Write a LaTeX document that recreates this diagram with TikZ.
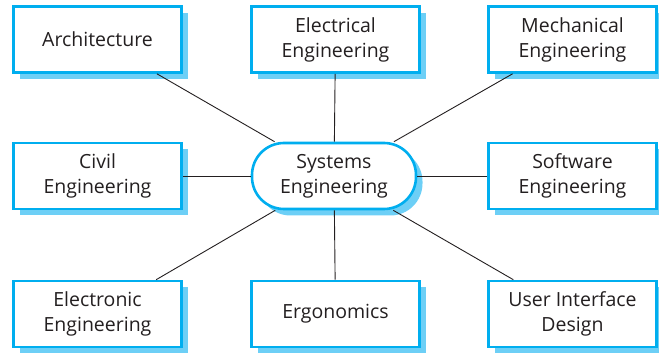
\documentclass[tikz,border=0pt]{standalone}
\usepackage{fontspec}
\setmainfont{Open Sans}
\usepackage{tikz}
\usetikzlibrary{shadows}
\definecolor{sysblue}{HTML}{00AEEF}
\definecolor{sysshade}{HTML}{6DCFF6}
\definecolor{systext}{HTML}{231F20}

\tikzset{
  discbox/.style={draw=sysblue, line width=2.6pt, fill=white,
    minimum width=168pt, minimum height=66pt, align=center,
    font=\fontsize{19.5}{25}\selectfont, text=systext,
    general shadow={fill=sysshade, shadow xshift=6.5pt, shadow yshift=-6.5pt}},
  sysbox/.style={discbox, rounded corners=32pt, minimum width=164pt},
  link/.style={draw=systext, line width=0.9pt}
}

\begin{document}
\begin{tikzpicture}[x=1pt, y=1pt]
\useasboundingbox (0,0) rectangle (659,353);
% disciplines round the centre
\node[discbox] (arch) at (97.5,313.5) {Architecture};
\node[discbox] (elec) at (335.5,313.5) {Electrical\\Engineering};
\node[discbox] (mech) at (572.5,313.5) {Mechanical\\Engineering};
\node[discbox] (civil) at (97.5,177) {Civil\\Engineering};
\node[sysbox] (sys) at (334,177) {Systems\\Engineering};
\node[discbox] (soft) at (572.5,177) {Software\\Engineering};
\node[discbox] (elnc) at (97.5,39) {Electronic\\Engineering};
\node[discbox] (ergo) at (335.5,39) {Ergonomics};
\node[discbox] (uid) at (572.5,39) {User Interface\\Design};
% spokes
\foreach \n in {arch, elec, mech, civil, soft, elnc, ergo, uid}
  \draw[link] (sys) -- (\n);
\end{tikzpicture}
\end{document}
